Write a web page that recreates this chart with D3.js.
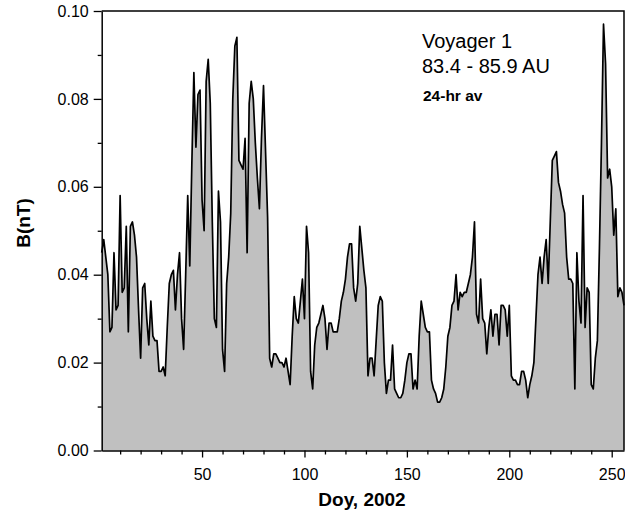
<!DOCTYPE html>
<html>
<head>
<meta charset="utf-8">
<script src="https://cdn.jsdelivr.net/npm/d3@7"></script>
<style>
  body { margin: 0; background: #fff; }
  svg { font-family: Arial, "Liberation Sans", sans-serif; }
</style>
</head>
<body>
<div id="viz"></div>
<script>
const width = 625;
const height = 519;
const margin = {top: 11, right: 1, bottom: 68.5, left: 101.7};

// 24-hr averages of B (nT), one per day starting at doy 1
const firstDay = 1;
const bField = [
  0.045, 0.048, 0.044, 0.040, 0.027, 0.028, 0.045, 0.032, 0.033, 0.058,
  0.036, 0.037, 0.051, 0.027, 0.051, 0.052, 0.049, 0.044, 0.032, 0.021,
  0.037, 0.038, 0.030, 0.024, 0.034, 0.026, 0.025, 0.025, 0.018, 0.018,
  0.019, 0.017, 0.028, 0.038, 0.040, 0.041, 0.032, 0.040, 0.045, 0.030,
  0.023, 0.040, 0.058, 0.042, 0.065, 0.086, 0.069, 0.081, 0.082, 0.057,
  0.050, 0.084, 0.089, 0.079, 0.052, 0.030, 0.028, 0.059, 0.052, 0.023,
  0.018, 0.038, 0.044, 0.054, 0.080, 0.092, 0.094, 0.066, 0.065, 0.064,
  0.071, 0.045, 0.079, 0.084, 0.080, 0.070, 0.062, 0.055, 0.071, 0.083,
  0.068, 0.053, 0.021, 0.019, 0.022, 0.022, 0.021, 0.020, 0.020, 0.019,
  0.021, 0.018, 0.015, 0.026, 0.035, 0.030, 0.029, 0.034, 0.039, 0.030,
  0.051, 0.045, 0.018, 0.014, 0.024, 0.028, 0.029, 0.031, 0.033, 0.030,
  0.023, 0.029, 0.029, 0.027, 0.027, 0.027, 0.030, 0.034, 0.036, 0.039,
  0.044, 0.047, 0.047, 0.037, 0.034, 0.038, 0.051, 0.046, 0.041, 0.037,
  0.017, 0.021, 0.021, 0.017, 0.025, 0.033, 0.035, 0.034, 0.020, 0.013,
  0.016, 0.016, 0.024, 0.014, 0.013, 0.012, 0.012, 0.013, 0.016, 0.020,
  0.022, 0.022, 0.014, 0.016, 0.014, 0.026, 0.034, 0.031, 0.028, 0.027,
  0.027, 0.016, 0.014, 0.013, 0.011, 0.011, 0.012, 0.014, 0.019, 0.026,
  0.028, 0.033, 0.034, 0.040, 0.032, 0.036, 0.035, 0.036, 0.036, 0.038,
  0.040, 0.044, 0.052, 0.031, 0.029, 0.039, 0.030, 0.029, 0.022, 0.028,
  0.032, 0.026, 0.031, 0.031, 0.024, 0.033, 0.033, 0.032, 0.026, 0.033,
  0.017, 0.016, 0.016, 0.015, 0.015, 0.018, 0.018, 0.016, 0.012, 0.015,
  0.017, 0.020, 0.030, 0.040, 0.044, 0.038, 0.044, 0.048, 0.038, 0.052,
  0.066, 0.067, 0.068, 0.061, 0.059, 0.056, 0.054, 0.044, 0.039, 0.039,
  0.038, 0.014, 0.045, 0.034, 0.029, 0.058, 0.028, 0.037, 0.036, 0.015,
  0.014, 0.021, 0.025, 0.046, 0.070, 0.097, 0.088, 0.062, 0.064, 0.060,
  0.049, 0.055, 0.035, 0.037, 0.036, 0.033
];

const xDomain = [1, 256];
const yDomain = [0, 0.10];
const xMajorTicks = [50, 100, 150, 200, 250];
const xMinorTicks = [10, 20, 30, 40, 60, 70, 80, 90, 110, 120, 130, 140, 160, 170, 180, 190, 210, 220, 230, 240];
const yMajorTicks = [0, 0.02, 0.04, 0.06, 0.08, 0.10];
const yMinorTicks = [0.01, 0.03, 0.05, 0.07, 0.09];
const annotation = ['Voyager 1', '83.4 - 85.9 AU', '24-hr av'];

const data = bField.map((b, i) => ({doy: firstDay + i, b: b}));

const svg = d3.select('#viz')
  .append('svg')
  .attr('width', width)
  .attr('height', height);

const x = d3.scaleLinear()
  .domain(xDomain)
  .range([margin.left, width - margin.right]);

const y = d3.scaleLinear()
  .domain(yDomain)
  .range([height - margin.bottom, margin.top]);

// filled area under the curve
const area = d3.area()
  .x(d => x(d.doy))
  .y0(y(0))
  .y1(d => y(d.b));

svg.append('path')
  .datum(data)
  .attr('d', area)
  .attr('fill', '#c0c0c0');

const line = d3.line()
  .x(d => x(d.doy))
  .y(d => y(d.b));

svg.append('path')
  .datum(data)
  .attr('d', line)
  .attr('fill', 'none')
  .attr('stroke', '#000')
  .attr('stroke-width', 1.7)
  .attr('stroke-linejoin', 'round');

// axes
const styleAxis = g => {
  g.select('.domain').attr('stroke-width', 1.5);
  g.selectAll('.tick line').attr('stroke-width', 1.3);
  g.selectAll('text').attr('font-size', 16).attr('fill', '#000');
};

svg.append('g')
  .attr('transform', `translate(0,${y(0)})`)
  .call(d3.axisBottom(x).tickValues(xMinorTicks).tickSize(4).tickFormat(''))
  .call(g => g.select('.domain').remove())
  .call(styleAxis);

svg.append('g')
  .attr('transform', `translate(0,${y(0)})`)
  .call(d3.axisBottom(x).tickValues(xMajorTicks).tickSize(7).tickSizeOuter(0).tickPadding(11)
    .tickFormat(d3.format('d')))
  .call(styleAxis);

svg.append('g')
  .attr('transform', `translate(${x(xDomain[0])},0)`)
  .call(d3.axisLeft(y).tickValues(yMinorTicks).tickSize(4).tickFormat(''))
  .call(g => g.select('.domain').remove())
  .call(styleAxis);

svg.append('g')
  .attr('transform', `translate(${x(xDomain[0])},0)`)
  .call(d3.axisLeft(y).tickValues(yMajorTicks).tickSize(8).tickSizeOuter(0).tickPadding(5)
    .tickFormat(d3.format('.2f')))
  .call(styleAxis);

// top and right frame
svg.append('path')
  .attr('d', `M${x(xDomain[0])},${y(yDomain[1])}H${x(xDomain[1])}V${y(0)}`)
  .attr('fill', 'none')
  .attr('stroke', '#000')
  .attr('stroke-width', 1.5);

// axis titles
svg.append('text')
  .attr('x', 362)
  .attr('y', 506)
  .attr('text-anchor', 'middle')
  .attr('font-size', 19)
  .attr('font-weight', 'bold')
  .text('Doy, 2002');

svg.append('text')
  .attr('transform', `translate(30,223) rotate(-90)`)
  .attr('text-anchor', 'middle')
  .attr('font-size', 19)
  .attr('font-weight', 'bold')
  .text('B(nT)');

// annotation
svg.append('text').attr('x', 422).attr('y', 48)
  .attr('font-size', 20).text(annotation[0]);
svg.append('text').attr('x', 422).attr('y', 73)
  .attr('font-size', 20).text(annotation[1]);
svg.append('text').attr('x', 423).attr('y', 101)
  .attr('font-size', 15.5).attr('font-weight', 'bold').text(annotation[2]);
</script>
</body>
</html>
